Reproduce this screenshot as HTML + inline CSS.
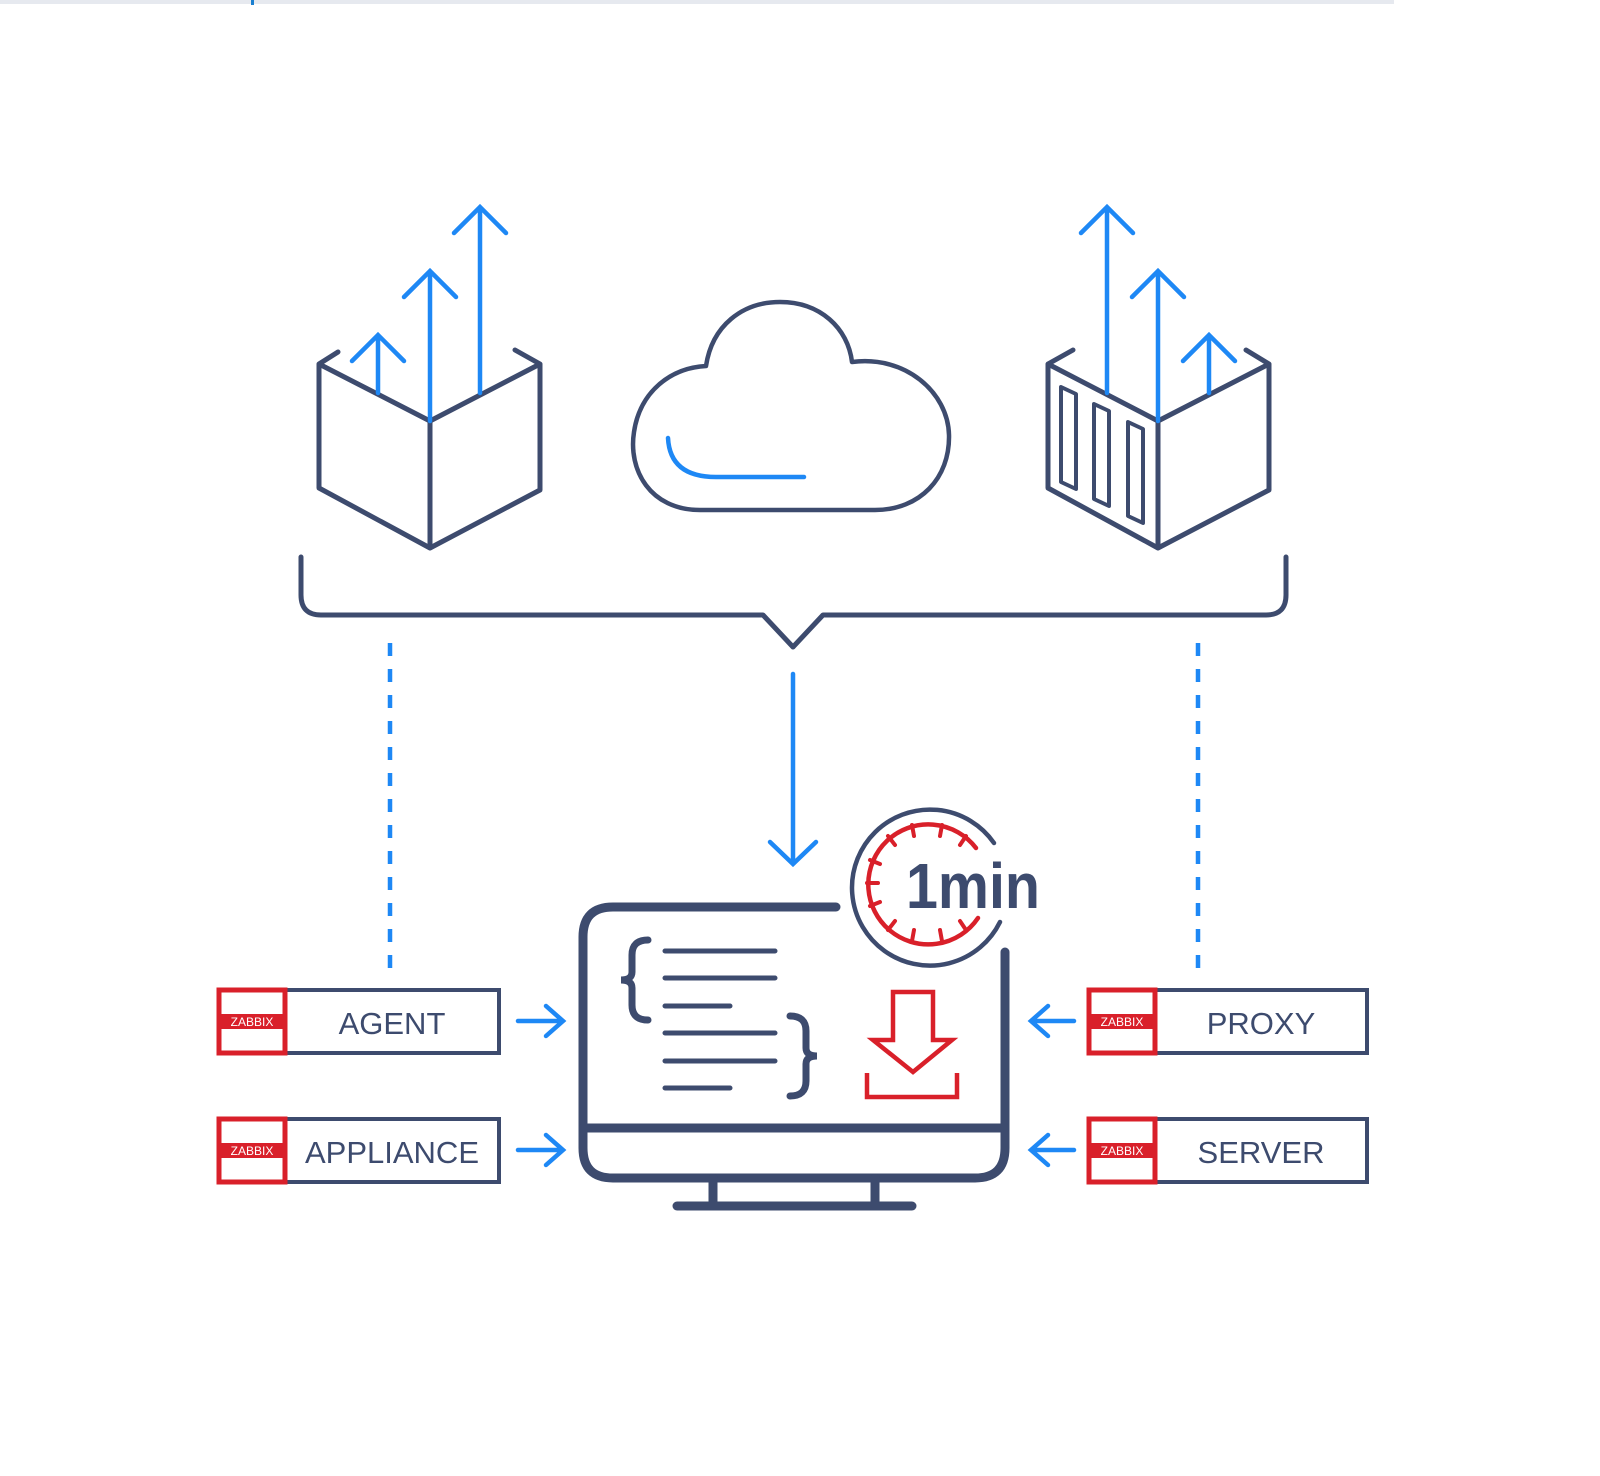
<!DOCTYPE html>
<html><head><meta charset="utf-8"><style>
html,body{margin:0;padding:0;background:#fff;width:1600px;height:1476px;overflow:hidden}
svg{display:block}
text{font-family:"Liberation Sans",sans-serif}
</style></head><body>
<svg width="1600" height="1476" viewBox="0 0 1600 1476" xmlns="http://www.w3.org/2000/svg">
<rect x="0" y="0" width="1394" height="4" fill="#e6e9ef"/>
<rect x="251" y="0" width="3" height="5" fill="#1a7fd0"/>

<g fill="none" stroke="#3d4b6e" stroke-width="5" stroke-linejoin="round" stroke-linecap="round">
<path d="M319,364 L430,421 L540,364 L540,490 L430,548 L319,488 Z M430,421 L430,548 M319,364 L338,352 M515,350 L540,364"/>
<path d="M1048,364 L1158,421 L1269,364 L1269,490 L1158,548 L1048,488 Z M1158,421 L1158,548 M1048,364 L1073,350 M1246,350 L1269,364"/>
<path stroke-width="4" d="M1061,387 L1076,394 L1076,489 L1061,482 Z M1094,404 L1109,411 L1109,506 L1094,499 Z M1128,422 L1143,429 L1143,523 L1128,516 Z"/>
<path stroke-width="4.5" d="M700,510 C650,510 628,470 634,432 C640,392 670,368 706,366 C712,326 742,302 780,302 C820,302 848,328 852,362 C905,355 948,392 949,435 C950,478 920,510 875,510 Z"/>
<path d="M301,557 L301,595 Q301,615 321,615 L763,615 L793,647 L823,615 L1266,615 Q1286,615 1286,595 L1286,557"/>
</g>

<g fill="none" stroke="#1e88f5" stroke-width="4.5" stroke-linecap="round" stroke-linejoin="miter">
<path d="M378,393 L378,335 M352,361 L378,335 L404,361"/>
<path d="M430,421 L430,271 M404,297 L430,271 L456,297"/>
<path d="M480,393 L480,207 M454,233 L480,207 L506,233"/>
<path d="M1107,393 L1107,207 M1081,233 L1107,207 L1133,233"/>
<path d="M1158,421 L1158,271 M1132,297 L1158,271 L1184,297"/>
<path d="M1209,393 L1209,335 M1183,361 L1209,335 L1235,361"/>
<path d="M668,438 Q670,477 716,477 L804,477"/>
<path d="M793,674 L793,864 M770,842 L793,864 L816,842"/>
<path stroke-linecap="butt" stroke-dasharray="13 13" d="M390,643 L390,970 M1198,643 L1198,970"/>
<path d="M518,1021 L562,1021 M546,1006 L563,1021 L546,1036"/>
<path d="M518,1150 L562,1150 M546,1135 L563,1150 L546,1165"/>
<path d="M1074,1021 L1032,1021 M1048,1006 L1031,1021 L1048,1036"/>
<path d="M1074,1150 L1032,1150 M1048,1135 L1031,1150 L1048,1165"/>
</g>

<g fill="none" stroke="#3d4b6e" stroke-width="9" stroke-linecap="round">
<path d="M836,907 L613,907 Q583,907 583,937 L583,1148 Q583,1178 613,1178 L975,1178 Q1005,1178 1005,1148 L1005,952"/>
<path d="M583,1128 L1005,1128"/>
<path d="M713,1178 L713,1203 M875,1178 L875,1203"/>
<path d="M677,1206 L912,1206"/>
<path stroke-width="5" d="M665,951 L775,951 M665,978 L775,978 M665,1006 L730,1006 M665,1033 L775,1033 M665,1061 L775,1061 M665,1088 L730,1088"/>
<path stroke-width="7" d="M648,940 Q632,940 632,955 L632,972 Q632,980 621,980 Q632,980 632,988 L632,1005 Q632,1020 648,1020"/>
<path stroke-width="7" d="M790,1016 Q806,1016 806,1031 L806,1048 Q806,1056 817,1056 Q806,1056 806,1064 L806,1081 Q806,1096 790,1096"/>
</g>
<g fill="none" stroke="#d9202a" stroke-width="4.5" stroke-linejoin="miter">
<path d="M893,992 L933,992 L933,1040 L952,1040 L913,1072 L873,1040 L893,1040 Z"/>
<path d="M867,1073 L867,1097 L957,1097 L957,1073"/>
</g>

<g fill="none" stroke-linecap="round">
<path stroke="#3d4b6e" stroke-width="4.5" d="M994,843 A78,78 0 1 0 1000,922"/>
<path stroke="#d9202a" stroke-width="4.5" d="M976,848 A60,60 0 1 0 978,918"/>
<g stroke="#d9202a" stroke-width="4">
<path d="M912,825 L914,836 M942,825 L940,836 M888,836 L895,845 M870,860 L880,864 M867,883 L878,883 M870,906 L880,902 M888,930 L895,921 M912,941 L914,930 M942,941 L940,930 M966,930 L960,921 M966,836 L960,845"/>
</g>
</g>
<text x="906" y="908" font-size="64" font-weight="bold" fill="#3d4b6e" textLength="134" lengthAdjust="spacingAndGlyphs">1min</text>

<g>
<rect x="219" y="990" width="280" height="63" fill="#fff" stroke="#3d4b6e" stroke-width="4"/>
<rect x="219" y="990" width="66" height="63" fill="#fff" stroke="#d9202a" stroke-width="5"/>
<rect x="219" y="1014" width="66" height="15" fill="#d9202a"/>
<text x="252" y="1026" font-size="12" fill="#fff" text-anchor="middle">ZABBIX</text>
<text x="392" y="1034" font-size="31" fill="#3d4b6e" text-anchor="middle">AGENT</text>

<rect x="219" y="1119" width="280" height="63" fill="#fff" stroke="#3d4b6e" stroke-width="4"/>
<rect x="219" y="1119" width="66" height="63" fill="#fff" stroke="#d9202a" stroke-width="5"/>
<rect x="219" y="1143" width="66" height="15" fill="#d9202a"/>
<text x="252" y="1155" font-size="12" fill="#fff" text-anchor="middle">ZABBIX</text>
<text x="392" y="1163" font-size="31" fill="#3d4b6e" text-anchor="middle">APPLIANCE</text>

<rect x="1089" y="990" width="278" height="63" fill="#fff" stroke="#3d4b6e" stroke-width="4"/>
<rect x="1089" y="990" width="66" height="63" fill="#fff" stroke="#d9202a" stroke-width="5"/>
<rect x="1089" y="1014" width="66" height="15" fill="#d9202a"/>
<text x="1122" y="1026" font-size="12" fill="#fff" text-anchor="middle">ZABBIX</text>
<text x="1261" y="1034" font-size="31" fill="#3d4b6e" text-anchor="middle">PROXY</text>

<rect x="1089" y="1119" width="278" height="63" fill="#fff" stroke="#3d4b6e" stroke-width="4"/>
<rect x="1089" y="1119" width="66" height="63" fill="#fff" stroke="#d9202a" stroke-width="5"/>
<rect x="1089" y="1143" width="66" height="15" fill="#d9202a"/>
<text x="1122" y="1155" font-size="12" fill="#fff" text-anchor="middle">ZABBIX</text>
<text x="1261" y="1163" font-size="31" fill="#3d4b6e" text-anchor="middle">SERVER</text>
</g>
</svg>
</body></html>
